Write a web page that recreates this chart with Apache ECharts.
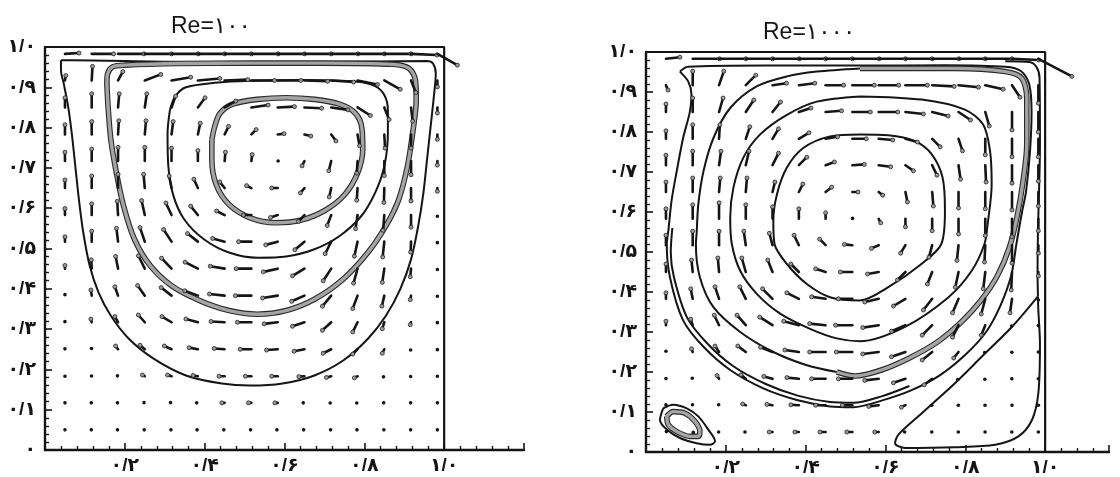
<!DOCTYPE html>
<html><head><meta charset="utf-8">
<script src="https://cdn.jsdelivr.net/npm/echarts@6/dist/echarts.min.js"></script>
<style>html,body{margin:0;padding:0;background:#fff}#c{width:1120px;height:477px}</style>
</head><body><div id="c"></div>
<script>
// ---------- data ----------
const titles = ['Re=۱۰۰', 'Re=۱۰۰۰'];
const yTickLabels = ['۰','۰/۱','۰/۲','۰/۳','۰/۴','۰/۵','۰/۶','۰/۷','۰/۸','۰/۹','۱/۰'];
const xTickLabels = ['','۰/۲','۰/۴','۰/۶','۰/۸','۱/۰'];
const gridPos = [0.05,0.117,0.183,0.25,0.317,0.383,0.45,0.517,0.583,0.65,0.717,0.783,0.85,0.917,0.983];

// Re=100 velocity arrows (rows bottom->top, columns left->right)
const U100 = [
 [0,-0.002,-0.003,-0.003,-0.003,-0.004,-0.004,-0.004,-0.004,-0.004,-0.003,-0.003,-0.002,-0.002,0],
 [0,-0.002,-0.003,-0.004,-0.005,-0.006,-0.007,-0.007,-0.007,-0.006,-0.005,-0.004,-0.003,-0.002,0],
 [0,-0.001,-0.003,-0.006,-0.010,-0.012,-0.014,-0.015,-0.015,-0.014,-0.012,-0.008,-0.004,-0.002,0],
 [0,-0.001,-0.006,-0.012,-0.018,-0.022,-0.026,-0.028,-0.028,-0.026,-0.020,-0.012,-0.005,-0.002,0],
 [0,-0.002,-0.008,-0.016,-0.024,-0.030,-0.034,-0.035,-0.034,-0.030,-0.022,-0.012,-0.005,-0.002,0],
 [0,-0.002,-0.008,-0.018,-0.026,-0.033,-0.038,-0.040,-0.038,-0.032,-0.022,-0.012,-0.006,-0.002,0],
 [0,-0.001,-0.006,-0.016,-0.025,-0.032,-0.036,-0.038,-0.036,-0.030,-0.020,-0.010,-0.005,-0.002,0],
 [0,0,-0.004,-0.012,-0.020,-0.026,-0.030,-0.032,-0.030,-0.024,-0.015,-0.008,-0.004,-0.001,0],
 [0,0,-0.002,-0.008,-0.014,-0.018,-0.020,-0.020,-0.018,-0.015,-0.010,-0.005,-0.003,0,0],
 [0,0,0,-0.003,-0.006,-0.010,-0.012,-0.012,-0.015,-0.010,-0.005,-0.002,-0.001,0,0],
 [0,0,0,0,0,0,0.002,0.002,0.002,-0.006,-0.006,-0.002,0,0,0],
 [0,0,0.002,0.003,0.004,0.006,0.010,0.012,0.016,0.016,0.012,0.005,0.002,0,0],
 [0,0,0.003,0.005,0.010,0.018,0.028,0.042,0.042,0.043,0.042,0.032,0.012,0.004,0],
 [0.002,0.002,0.012,0.040,0.048,0.055,0.058,0.058,0.058,0.058,0.056,0.050,0.040,0.012,0],
 [0.035,0.055,0.065,0.067,0.067,0.067,0.067,0.067,0.067,0.067,0.067,0.067,0.067,0.065,0.050]
];
const V100 = [
 [0,0,0,0,0,0,0,0,0,0,0,0,0,0,0],
 [0,0,0,0.001,0.001,0,0,0,0,0,-0.001,-0.001,0,0,0],
 [0,0.001,0.002,0.003,0.003,0.002,0,0,0,-0.001,-0.003,-0.004,-0.003,-0.001,0],
 [0.002,0.004,0.008,0.010,0.008,0.004,0.002,0,-0.002,-0.005,-0.010,-0.012,-0.010,-0.004,-0.002],
 [0.003,0.008,0.014,0.018,0.014,0.008,0.002,0,-0.004,-0.010,-0.020,-0.024,-0.016,-0.006,-0.002],
 [0.005,0.014,0.022,0.025,0.020,0.012,0.004,0,-0.006,-0.014,-0.026,-0.032,-0.026,-0.010,-0.003],
 [0.008,0.022,0.030,0.032,0.026,0.016,0.006,0,-0.008,-0.018,-0.030,-0.036,-0.034,-0.020,-0.004],
 [0.012,0.026,0.033,0.035,0.030,0.020,0.008,0,-0.008,-0.020,-0.030,-0.036,-0.038,-0.026,-0.005],
 [0.016,0.028,0.034,0.036,0.030,0.022,0.010,0,-0.006,-0.016,-0.026,-0.034,-0.038,-0.030,-0.006],
 [0.020,0.030,0.034,0.034,0.030,0.022,0.015,0.006,0,-0.012,-0.022,-0.030,-0.036,-0.032,-0.008],
 [0.022,0.030,0.034,0.034,0.032,0.026,0.022,0.016,0,-0.012,-0.024,-0.030,-0.036,-0.034,-0.010],
 [0.024,0.032,0.034,0.034,0.032,0.028,0.020,0.012,0.002,-0.004,-0.016,-0.028,-0.034,-0.034,-0.012],
 [0.024,0.034,0.034,0.034,0.028,0.024,0.016,0.006,0.002,-0.002,-0.006,-0.020,-0.030,-0.034,-0.014],
 [0.012,0.035,0.022,0.015,0.008,0.005,0.002,0,0,-0.002,-0.004,-0.010,-0.022,-0.030,-0.016],
 [0.002,0,0,0,0,0,0,0,0,0,0,0,0,-0.003,-0.028]
];

// Re=1000 velocity arrows
const U1000 = [
 [0.002,0.003,-0.002,-0.004,-0.008,-0.010,-0.014,-0.014,-0.010,-0.004,-0.002,-0.001,-0.001,-0.001,0],
 [0,-0.001,-0.002,-0.008,-0.014,-0.020,-0.025,-0.025,-0.025,-0.010,-0.002,-0.001,-0.001,0,0],
 [0,-0.002,-0.005,-0.012,-0.022,-0.030,-0.035,-0.035,-0.035,-0.030,-0.020,-0.004,-0.002,-0.001,0],
 [0,-0.003,-0.010,-0.020,-0.030,-0.035,-0.040,-0.040,-0.040,-0.035,-0.025,-0.012,-0.003,-0.001,0],
 [0,-0.005,-0.012,-0.022,-0.032,-0.038,-0.040,-0.042,-0.040,-0.035,-0.025,-0.015,-0.010,-0.002,0],
 [0,-0.005,-0.010,-0.015,-0.025,-0.030,-0.035,-0.035,-0.035,-0.030,-0.022,-0.015,-0.010,-0.005,0],
 [0,-0.003,-0.003,-0.010,-0.012,-0.020,-0.025,-0.030,-0.028,-0.020,-0.012,-0.008,-0.005,-0.002,0],
 [0,0,0,-0.005,-0.008,-0.012,-0.015,-0.020,-0.018,-0.012,-0.008,-0.004,-0.002,0,0],
 [0,0,0,0,0,0,0,0.001,0.005,0,0,0,0,0,0],
 [0,0,0.003,0.003,0.006,0.010,0.015,0.014,0.010,0.005,0.003,0,0,0,0],
 [0,0,0.005,0.008,0.015,0.020,0.022,0.030,0.030,0.020,0.012,0.005,0.002,0,0],
 [0,0,0.002,0.010,0.015,0.025,0.030,0.035,0.035,0.030,0.020,0.010,0,0,0],
 [0,0,0.010,0.020,0.020,0.030,0.040,0.045,0.048,0.045,0.040,0.030,0.010,0,0],
 [0.005,0,0.012,0.025,0.035,0.040,0.045,0.055,0.050,0.055,0.055,0.050,0.045,0.020,0],
 [0.035,0.067,0.067,0.067,0.067,0.067,0.067,0.067,0.067,0.067,0.067,0.067,0.067,0.067,0.084]
];
const V1000 = [
 [0.002,-0.002,0,0,0,0,0,0,0,0,0,0,0,0,0],
 [0.002,0.002,0.002,0.003,0.002,0.001,0,0,-0.003,-0.005,0,0,0,0,0],
 [0.001,0.003,0.008,0.010,0.006,0.003,0,0,-0.004,-0.010,-0.015,-0.004,-0.002,0,0],
 [0.004,0.008,0.015,0.015,0.012,0.005,0,0,-0.005,-0.012,-0.020,-0.015,-0.003,-0.001,0],
 [0.010,0.015,0.025,0.025,0.020,0.010,0.004,0,-0.006,-0.015,-0.025,-0.030,-0.025,-0.004,-0.002],
 [0.015,0.025,0.030,0.030,0.025,0.015,0.005,0,-0.008,-0.018,-0.028,-0.035,-0.038,-0.035,-0.006],
 [0.020,0.030,0.035,0.035,0.030,0.020,0.008,0,-0.005,-0.020,-0.030,-0.038,-0.042,-0.045,-0.010],
 [0.025,0.035,0.035,0.035,0.030,0.025,0.015,0.002,-0.008,-0.020,-0.030,-0.038,-0.042,-0.045,-0.020],
 [0.025,0.035,0.040,0.035,0.030,0.025,0.015,0.002,-0.010,-0.020,-0.030,-0.038,-0.042,-0.045,-0.030],
 [0.025,0.035,0.035,0.035,0.025,0.020,0.012,0,-0.008,-0.025,-0.035,-0.040,-0.042,-0.045,-0.035],
 [0.025,0.035,0.035,0.035,0.030,0.020,0.008,0.002,-0.004,-0.014,-0.025,-0.035,-0.042,-0.045,-0.040],
 [0.020,0.035,0.035,0.030,0.025,0.015,0.005,0,-0.003,-0.008,-0.020,-0.030,-0.040,-0.045,-0.045],
 [0.020,0.035,0.035,0.030,0.025,0.010,0.003,0,0,-0.005,-0.010,-0.020,-0.035,-0.045,-0.050],
 [-0.012,0.035,0.035,0.025,0.005,0.005,0,0,0,0,-0.003,-0.005,-0.010,-0.030,-0.045],
 [0.004,0,0,0,0,0,0,0,0,0,0,0,0,-0.003,-0.044]
];

// Re=100 streamlines
const L1 = [[0.040,0.967],[0.040,0.942],[0.047,0.909],[0.058,0.852],[0.067,0.786],[0.076,0.704],[0.085,0.621],[0.096,0.539],[0.112,0.457],[0.134,0.391],[0.165,0.333],[0.210,0.276],[0.273,0.226],[0.353,0.185],[0.443,0.165],[0.514,0.160],[0.595,0.165],[0.675,0.185],[0.747,0.222],[0.809,0.276],[0.854,0.333],[0.890,0.399],[0.917,0.473],[0.935,0.556],[0.948,0.638],[0.957,0.720],[0.966,0.802],[0.975,0.885],[0.979,0.934],[0.972,0.959],[0.957,0.965],[0.693,0.963],[0.335,0.963],[0.067,0.967],[0.040,0.967]];
const L2 = [[0.155,0.909],[0.157,0.934],[0.170,0.951],[0.201,0.955],[0.335,0.959],[0.514,0.960],[0.693,0.960],[0.872,0.957],[0.912,0.947],[0.928,0.918],[0.930,0.868],[0.921,0.786],[0.908,0.704],[0.886,0.621],[0.854,0.556],[0.809,0.490],[0.747,0.424],[0.675,0.374],[0.604,0.346],[0.532,0.337],[0.461,0.346],[0.389,0.370],[0.318,0.407],[0.264,0.457],[0.224,0.523],[0.197,0.605],[0.179,0.687],[0.165,0.770],[0.158,0.852],[0.155,0.909]];
const L3 = [[0.313,0.844],[0.326,0.877],[0.353,0.900],[0.425,0.911],[0.514,0.916],[0.648,0.918],[0.783,0.914],[0.827,0.903],[0.850,0.881],[0.859,0.844],[0.859,0.786],[0.850,0.704],[0.827,0.638],[0.792,0.580],[0.738,0.531],[0.675,0.498],[0.604,0.480],[0.532,0.477],[0.461,0.490],[0.398,0.523],[0.349,0.572],[0.322,0.630],[0.309,0.704],[0.307,0.786],[0.313,0.844]];
const L4 = [[0.418,0.770],[0.425,0.802],[0.438,0.835],[0.470,0.858],[0.532,0.870],[0.604,0.874],[0.675,0.870],[0.738,0.858],[0.778,0.835],[0.794,0.798],[0.796,0.745],[0.783,0.687],[0.751,0.634],[0.702,0.595],[0.640,0.570],[0.577,0.564],[0.514,0.576],[0.461,0.609],[0.429,0.658],[0.418,0.720],[0.418,0.770]];

// Re=1000 streamlines
const R1 = [[0.085,0.951],[0.105,0.963],[0.300,0.966],[0.532,0.966],[0.750,0.967],[0.900,0.963],[0.940,0.952],[0.960,0.920],[0.966,0.850],[0.962,0.750],[0.952,0.650],[0.942,0.600],[0.928,0.520],[0.915,0.441],[0.888,0.366],[0.852,0.300],[0.798,0.241],[0.735,0.191],[0.664,0.154],[0.592,0.129],[0.520,0.112],[0.461,0.114],[0.378,0.130],[0.294,0.159],[0.211,0.205],[0.144,0.263],[0.093,0.329],[0.060,0.437],[0.052,0.520],[0.056,0.553],[0.064,0.628],[0.077,0.702],[0.093,0.785],[0.110,0.851],[0.114,0.893],[0.106,0.926],[0.085,0.951]];
const R1b = [[0.066,0.560],[0.062,0.500],[0.070,0.437],[0.103,0.336],[0.153,0.272],[0.218,0.215],[0.300,0.170],[0.380,0.141],[0.461,0.125],[0.520,0.123],[0.590,0.139],[0.660,0.165]];
const R2gray = [[0.536,0.959],[0.774,0.959],[0.900,0.951],[0.941,0.935],[0.954,0.885],[0.954,0.769],[0.945,0.680],[0.930,0.590],[0.910,0.510],[0.880,0.440],[0.840,0.380],[0.790,0.325],[0.730,0.275],[0.660,0.235],[0.590,0.205],[0.524,0.190],[0.478,0.200]];
const R2black = [[0.478,0.200],[0.403,0.217],[0.319,0.250],[0.236,0.300],[0.169,0.362],[0.135,0.437],[0.125,0.520],[0.127,0.550],[0.131,0.619],[0.144,0.702],[0.169,0.785],[0.211,0.860],[0.277,0.914],[0.353,0.939],[0.428,0.951],[0.536,0.959]];
const R3 = [[0.536,0.889],[0.691,0.881],[0.799,0.856],[0.845,0.818],[0.862,0.752],[0.866,0.669],[0.856,0.570],[0.848,0.520],[0.816,0.453],[0.758,0.387],[0.649,0.313],[0.536,0.277],[0.478,0.284],[0.411,0.308],[0.336,0.346],[0.277,0.396],[0.236,0.453],[0.215,0.520],[0.211,0.586],[0.219,0.661],[0.244,0.736],[0.286,0.794],[0.353,0.843],[0.428,0.876],[0.536,0.889]];
const R4 = [[0.536,0.794],[0.607,0.792],[0.674,0.777],[0.716,0.744],[0.743,0.686],[0.749,0.603],[0.740,0.520],[0.690,0.470],[0.607,0.412],[0.536,0.379],[0.461,0.387],[0.403,0.420],[0.353,0.470],[0.322,0.520],[0.319,0.578],[0.328,0.644],[0.353,0.711],[0.394,0.760],[0.461,0.789],[0.536,0.794]];
const RSep = [[0.900,0.977],[0.960,0.975],[0.978,0.963],[0.986,0.935],[0.987,0.770],[0.982,0.550],[0.981,0.450],[0.982,0.389]];
const RTri = [[0.982,0.389],[0.917,0.313],[0.841,0.238],[0.774,0.172],[0.691,0.097],[0.632,0.043],[0.624,0.022],[0.649,0.010],[0.774,0.012],[0.875,0.018],[0.933,0.039],[0.967,0.080],[0.983,0.147],[0.987,0.271],[0.983,0.354],[0.982,0.389]];
const RSmallOuter = [[0.043,0.109],[0.068,0.118],[0.102,0.109],[0.131,0.089],[0.156,0.056],[0.173,0.027],[0.160,0.018],[0.127,0.022],[0.085,0.035],[0.052,0.056],[0.035,0.080],[0.043,0.109]];
const RSmallInner = [[0.052,0.089],[0.068,0.101],[0.098,0.097],[0.123,0.076],[0.135,0.051],[0.131,0.039],[0.110,0.039],[0.077,0.051],[0.056,0.068],[0.052,0.089]];
const frame = [[0,1],[1,1],[1,0]];

// ---------- chart ----------
const FONT = "'Liberation Sans','DejaVu Sans',sans-serif";
const INK = '#151515';

function arrowSeries(U, V, idx) {
  const data = [];
  for (let r = 0; r < gridPos.length; r++)
    for (let c = 0; c < gridPos.length; c++)
      data.push([gridPos[c], gridPos[r], U[r][c], V[r][c]]);
  return {
    type: 'custom', xAxisIndex: idx, yAxisIndex: idx, silent: true, z: 5,
    data, encode: { x: 0, y: 1 },
    renderItem: function (params, api) {
      const x = api.value(0), y = api.value(1), u = api.value(2), v = api.value(3);
      const p0 = api.coord([x, y]), p1 = api.coord([x + u, y + v]);
      const len = Math.hypot(p1[0] - p0[0], p1[1] - p0[1]);
      if (len < 2.5) {
        return { type: 'circle', shape: { cx: (p0[0] + p1[0]) / 2, cy: (p0[1] + p1[1]) / 2, r: 1.8 }, style: { fill: INK } };
      }
      return { type: 'group', children: [
        { type: 'line', shape: { x1: p0[0], y1: p0[1], x2: p1[0], y2: p1[1] }, style: { stroke: INK, lineWidth: 2.6, lineCap: 'round' } },
        { type: 'circle', shape: { cx: p1[0], cy: p1[1], r: 2 }, style: { fill: '#9a9a9a', stroke: '#222', lineWidth: 0.8 } }
      ]};
    }
  };
}
function thin(pts, idx) {
  return { type: 'line', xAxisIndex: idx, yAxisIndex: idx, data: pts, showSymbol: false, symbol: 'none', smooth: 0.3, silent: true, z: 3,
    lineStyle: { color: INK, width: 2 } };
}
function thick(pts, idx) {
  return [
    { type: 'line', xAxisIndex: idx, yAxisIndex: idx, data: pts, showSymbol: false, symbol: 'none', smooth: 0.3, silent: true, z: 3,
      lineStyle: { color: '#2a2a2a', width: 5.6 } },
    { type: 'line', xAxisIndex: idx, yAxisIndex: idx, data: pts, showSymbol: false, symbol: 'none', smooth: 0.3, silent: true, z: 4,
      lineStyle: { color: '#a4a4a4', width: 3.4 } }
  ];
}
function frameSeries(idx) {
  return { type: 'line', xAxisIndex: idx, yAxisIndex: idx, data: frame, showSymbol: false, symbol: 'none', silent: true, z: 6,
    lineStyle: { color: INK, width: 2.2 } };
}
function xAxisOpt(idx, max) {
  return {
    type: 'value', gridIndex: idx, min: 0, max: max, interval: 0.2,
    axisLine: { show: true, onZero: false, lineStyle: { color: INK, width: 2.4 } },
    axisTick: { show: true, inside: true, length: 7, lineStyle: { color: INK, width: 1.6 } },
    minorTick: { show: true, splitNumber: 5, length: 4, lineStyle: { color: INK, width: 1.4 } },
    splitLine: { show: false }, minorSplitLine: { show: false },
    axisLabel: { margin: 6, color: INK, fontSize: 19, fontWeight: 'bold', fontFamily: FONT,
      formatter: function (v) { const k = Math.round(v * 5); return (Math.abs(v * 5 - k) < 1e-6 && k >= 1 && k < xTickLabels.length) ? xTickLabels[k] : ''; } }
  };
}
function yAxisOpt(idx) {
  return {
    type: 'value', gridIndex: idx, min: 0, max: 1, interval: 0.1,
    axisLine: { show: true, onZero: false, lineStyle: { color: INK, width: 2.4 } },
    axisTick: { show: true, inside: true, length: 7, lineStyle: { color: INK, width: 1.6 } },
    minorTick: { show: true, splitNumber: 5, length: 4, lineStyle: { color: INK, width: 1.4 } },
    splitLine: { show: false }, minorSplitLine: { show: false },
    axisLabel: { margin: 9, color: INK, fontSize: 19, fontWeight: 'bold', fontFamily: FONT,
      formatter: function (v) { return yTickLabels[Math.round(v * 10)]; } }
  };
}

const chart = echarts.init(document.getElementById('c'), null, { renderer: 'canvas' });
chart.setOption({
  animation: false,
  backgroundColor: '#fff',
  title: [
    { text: titles[0], left: 166, top: 10, textStyle: { fontSize: 23, fontWeight: 'normal', color: INK, fontFamily: FONT } },
    { text: titles[1], left: 758, top: 16, textStyle: { fontSize: 23, fontWeight: 'normal', color: INK, fontFamily: FONT } }
  ],
  grid: [
    { left: 45, top: 47, width: 479, height: 403 },
    { left: 646, top: 52, width: 463, height: 402 }
  ],
  xAxis: [xAxisOpt(0, 1.2), xAxisOpt(1, 1.16)],
  yAxis: [yAxisOpt(0), yAxisOpt(1)],
  series: [
    frameSeries(0), frameSeries(1),
    thin(L1, 0), ...thick(L2, 0), thin(L3, 0), ...thick(L4, 0),
    arrowSeries(U100, V100, 0),
    thin(R1, 1), thin(R1b, 1), ...thick(R2gray, 1), thin(R2black, 1), thin(R3, 1), thin(R4, 1),
    thin(RSep, 1), thin(RTri, 1), thin(RSmallOuter, 1), ...thick(RSmallInner, 1),
    arrowSeries(U1000, V1000, 1)
  ]
});
</script>
</body></html>
